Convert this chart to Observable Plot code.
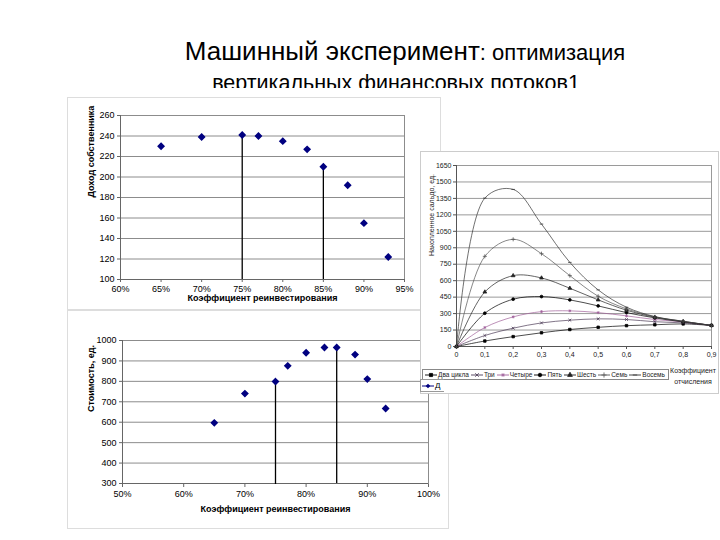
<!DOCTYPE html>
<html>
<head>
<meta charset="utf-8">
<script src="https://cdn.jsdelivr.net/npm/d3@7"></script>
<script src="https://cdn.jsdelivr.net/npm/@observablehq/plot@0.6"></script>
<style>
  html, body { margin: 0; padding: 0; background: #fff; }
  #root { position: relative; width: 720px; height: 540px; overflow: hidden; background: #fff;
          font-family: "Liberation Sans", Arial, sans-serif; }
  .panel { position: absolute; background: #fff; overflow: hidden; }
  .panel > svg { position: absolute; left: 0; top: 0; }
  #legendR { position: absolute; display: flex; align-items: center; gap: 2px; border: 1px solid #888;
             background: #fff; font-size: 6.5px; padding: 0 3px 0 2px; white-space: nowrap; color: #222; box-sizing: border-box; }
  #legendR span.item { display: inline-flex; align-items: center; gap: 1px; }
  #legendR svg { display: block; }
  #xtitleR { position: absolute; font-size: 7px; text-align: center; line-height: 11px; color: #222; }
  #fragL { position: absolute; z-index: 5; background: #fff; border: 1px solid #999; border-right: none;
           font-size: 8px; overflow: hidden; display: flex; align-items: center; gap: 1px; padding-left: 1px; }
  #fragL svg { display: block; }
</style>
</head>
<body>
<div id="root">
  <svg id="title" width="720" height="88" style="position:absolute;left:0;top:0;">
    <text x="405" y="60" text-anchor="middle" font-family="Liberation Sans, Arial, sans-serif" fill="#000">
      <tspan font-size="26">Машинный эксперимент</tspan><tspan font-size="22">: оптимизация</tspan>
    </text>
    <text x="396" y="90" text-anchor="middle" font-family="Liberation Sans, Arial, sans-serif" font-size="21.5" fill="#000">вертикальных финансовых потоков1</text>
  </svg>
  <div id="pTop" class="panel" style="left:67px;top:97px;width:372px;height:211px;border:1px solid #ddd;z-index:1;"></div>
  <div id="pBot" class="panel" style="left:67px;top:310px;width:380px;height:217px;border:1px solid #ddd;z-index:1;"></div>
  <div id="pRight" class="panel" style="left:420px;top:151px;width:297px;height:241px;border:1px solid #ccc;z-index:3;overflow:visible;"></div>
  <div id="fragL" style="left:420px;top:379px;width:22px;height:11px;"></div>
</div>
<script>
// ---------- Data: top-left chart (Доход собственника) ----------
const incomeRate = [0.65, 0.70, 0.75, 0.77, 0.80, 0.83, 0.85, 0.88, 0.90, 0.93];
const incomeValue = [230, 239, 241, 240, 235, 227, 210, 192, 155, 122];
const incomeTicksX = [0.60, 0.65, 0.70, 0.75, 0.80, 0.85, 0.90, 0.95];
const incomeTicksY = [100, 120, 140, 160, 180, 200, 220, 240, 260];
const incomeRuleX = [0.75, 0.85];
const incomeRuleTop = [241, 210];
const incomeRuleBottom = [100, 100];

// ---------- Data: bottom-left chart (Стоимость) ----------
const costRate = [0.65, 0.70, 0.75, 0.77, 0.80, 0.83, 0.85, 0.88, 0.90, 0.93];
const costValue = [597, 740, 799, 876, 940, 966, 966, 931, 811, 667];
const costTicksX = [0.5, 0.6, 0.7, 0.8, 0.9, 1.0];
const costTicksY = [300, 400, 500, 600, 700, 800, 900, 1000];
const costRuleX = [0.75, 0.85];
const costRuleTop = [800, 966];
const costRuleBottom = [295, 300];
const costLegendFragment = "Д";

// ---------- Data: right chart (Накопленное сальдо) ----------
const coef = [0, 0.1, 0.2, 0.3, 0.4, 0.5, 0.6, 0.7, 0.8, 0.9];
const seriesNames = ["Два цикла", "Три", "Четыре", "Пять", "Шесть", "Семь", "Восемь"];
const dvaCikla = [0, 50, 90, 125, 155, 175, 190, 198, 206, 192];
const tri      = [0, 100, 167, 215, 240, 252, 246, 226, 215, 192];
const chetyre  = [0, 173, 270, 318, 325, 309, 279, 246, 224, 192];
const pyat     = [0, 303, 431, 455, 425, 370, 309, 261, 224, 192];
const shest    = [0, 497, 646, 625, 531, 425, 331, 267, 228, 192];
const sem      = [0, 822, 977, 846, 646, 458, 343, 270, 230, 192];
const vosem    = [0, 1353, 1432, 1116, 767, 516, 358, 273, 230, 192];
const rightTicksY = [0, 150, 300, 450, 600, 750, 900, 1050, 1200, 1350, 1500, 1650];
const rightTicksX = [0, 0.1, 0.2, 0.3, 0.4, 0.5, 0.6, 0.7, 0.8, 0.9];

const FONT = "Liberation Sans, Arial, sans-serif";
const pct = d3.format(".0%");

function scatterChart(opts) {
  const pts = opts.rate.map((x, i) => ({x, y: opts.value[i]}));
  const rules = opts.ruleX.map((x, i) => ({x, y1: opts.ruleBottom[i], y2: opts.ruleTop[i]}));
  return Plot.plot({
    width: opts.width, height: opts.height,
    marginLeft: opts.ml, marginRight: opts.mr, marginTop: opts.mt, marginBottom: opts.mb,
    style: {background: "transparent", fontFamily: FONT, fontSize: "9px", color: "#000", overflow: "visible"},
    x: {domain: opts.xDomain},
    y: {domain: opts.yDomain},
    marks: [
      Plot.gridY(opts.ticksY, {stroke: "#8c8c8c", strokeOpacity: 1}),
      Plot.frame({stroke: "#8c8c8c"}),
      Plot.ruleY([opts.yDomain[0]], {stroke: "#666"}),
      Plot.ruleX([opts.xDomain[0]], {stroke: "#666"}),
      Plot.axisX({ticks: opts.ticksX, tickFormat: pct, tickSize: 3, tickPadding: 3, label: null, stroke: "#666", dy: opts.xdy || 0}),
      Plot.axisY({ticks: opts.ticksY, tickFormat: d3.format("d"), tickSize: 3, tickPadding: 3, label: null, stroke: "#666"}),
      Plot.ruleX(rules, {x: "x", y1: "y1", y2: "y2", stroke: "#000", strokeWidth: 1.3}),
      Plot.dot(pts, {x: "x", y: "y", symbol: "diamond2", fill: "#000080", stroke: "#000080", r: 2.6}),
      Plot.text([opts.xLabel], {frameAnchor: "bottom", dy: opts.xLabelDy, fontWeight: "bold", fontSize: 9, fill: "#000"}),
      Plot.text([opts.yLabel], {frameAnchor: "left", dx: opts.yLabelDx, rotate: -90, fontWeight: "bold", fontSize: 9, fill: "#000"})
    ]
  });
}

// top-left: panel at (67,97); plot area x 119..403, y 114..278
document.getElementById("pTop").appendChild(scatterChart({
  rate: incomeRate, value: incomeValue, ruleX: incomeRuleX, ruleTop: incomeRuleTop, ruleBottom: incomeRuleBottom,
  width: 372, height: 211, ml: 52, mr: 372 - 336, mt: 17, mb: 30,
  xDomain: [0.6, 0.95], yDomain: [100, 260], ticksX: incomeTicksX, ticksY: incomeTicksY,
  xLabel: "Коэффициент реинвестирования", xLabelDy: 21, yLabel: "Доход собственника", yLabelDx: -29
}));

// bottom-left: panel at (67,310); plot area x 121..427, y 339..482
document.getElementById("pBot").appendChild(scatterChart({
  rate: costRate, value: costValue, ruleX: costRuleX, ruleTop: costRuleTop, ruleBottom: costRuleBottom,
  width: 380, height: 217, ml: 54, mr: 380 - 360, mt: 29, mb: 45, xdy: 1,
  xDomain: [0.5, 1.0], yDomain: [300, 1000], ticksX: costTicksX, ticksY: costTicksY,
  xLabel: "Коэффициент реинвестирования", xLabelDy: 28, yLabel: "Стоимость, ед.", yLabelDx: -31
}));

// right chart
const seriesValues = [dvaCikla, tri, chetyre, pyat, shest, sem, vosem];
const seriesColors = ["#000000", "#4a3a55", "#a0609a", "#000000", "#222222", "#555555", "#333333"];
const dash = {draw(ctx, size) { const r = Math.sqrt(size) * 0.7; ctx.moveTo(-r, 0); ctx.lineTo(r, 0); }};
const seriesSymbols = ["square", "times", "asterisk", "circle", "triangle", "plus", dash];
const seriesFilled = [true, false, false, true, true, false, false];
const rows = [];
seriesNames.forEach((s, k) => coef.forEach((c, i) => rows.push({series: s, k, x: c, y: seriesValues[k][i]})));
const fmtComma = d => d === 0 ? "0" : d.toFixed(1).replace(".", ",");

const rightMarks = [
  Plot.gridY(rightTicksY, {stroke: "#9a9a9a", strokeOpacity: 1}),
  Plot.frame({stroke: "#9a9a9a"}),
  Plot.ruleY([0], {stroke: "#555"}),
  Plot.ruleX([0], {stroke: "#555"}),
  Plot.axisX({ticks: rightTicksX, tickFormat: fmtComma, tickSize: 3, tickPadding: 3, label: null, stroke: "#555", fontSize: 7}),
  Plot.axisY({ticks: rightTicksY, tickFormat: d3.format("d"), tickSize: 3, tickPadding: 2, label: null, stroke: "#555", fontSize: 7}),
  Plot.line(rows, {x: "x", y: "y", z: "series", curve: "catmull-rom",
    stroke: d => seriesColors[d.k], strokeWidth: 0.7})
];
seriesNames.forEach((s, k) => {
  const pts = rows.filter(d => d.k === k);
  rightMarks.push(Plot.dot(pts, {x: "x", y: "y", symbol: () => seriesSymbols[k], r: 1.4,
    fill: seriesFilled[k] ? seriesColors[k] : "none", stroke: seriesColors[k], strokeWidth: 0.8}));
});
rightMarks.push(Plot.text(["Накопленное сальдо, ед."], {frameAnchor: "left", dx: -25, rotate: -90, fontSize: 7, fill: "#222"}));

const rightSvg = Plot.plot({
  width: 297, height: 241,
  marginLeft: 35, marginRight: 7, marginTop: 13, marginBottom: 47,
  style: {background: "transparent", fontFamily: FONT, fontSize: "7px", color: "#222", overflow: "visible"},
  x: {domain: [0, 0.9]},
  y: {domain: [0, 1650]},
  symbol: {type: "identity"},
  marks: rightMarks
});
const pRight = document.getElementById("pRight");
pRight.appendChild(rightSvg);

// legend for right chart
const legend = document.createElement("div");
legend.id = "legendR";
legend.style.left = "1px"; legend.style.top = "217px"; legend.style.height = "11px";
seriesNames.forEach((s, k) => {
  const item = document.createElement("span");
  item.className = "item";
  const sw = d3.create("svg").attr("width", 12).attr("height", 8);
  sw.append("line").attr("x1", 0).attr("x2", 12).attr("y1", 4).attr("y2", 4).attr("stroke", seriesColors[k]).attr("stroke-width", 0.9);
  const sym = typeof seriesSymbols[k] === "string" ? d3.symbol(
    {square: d3.symbolSquare, times: d3.symbolTimes, asterisk: d3.symbolAsterisk, circle: d3.symbolCircle,
     triangle: d3.symbolTriangle, plus: d3.symbolPlus}[seriesSymbols[k]], 10)() : d3.symbol(seriesSymbols[k], 10)();
  sw.append("path").attr("d", sym).attr("transform", "translate(6,4)")
    .attr("fill", seriesFilled[k] ? seriesColors[k] : "none").attr("stroke", seriesColors[k]).attr("stroke-width", 0.8);
  item.appendChild(sw.node());
  const t = document.createElement("span"); t.textContent = s; item.appendChild(t);
  legend.appendChild(item);
});
pRight.appendChild(legend);

const xt = document.createElement("div");
xt.id = "xtitleR";
xt.style.left = "245px"; xt.style.top = "213px"; xt.style.width = "54px";
xt.innerHTML = "Коэффициент<br>отчисления";
pRight.appendChild(xt);

// fragment of bottom-left chart legend peeking out
const frag = document.getElementById("fragL");
const fs = d3.create("svg").attr("width", 12).attr("height", 8);
fs.append("line").attr("x1", 0).attr("x2", 12).attr("y1", 4).attr("y2", 4).attr("stroke", "#000080");
fs.append("path").attr("d", d3.symbol(d3.symbolDiamond2, 14)()).attr("transform", "translate(6,4)").attr("fill", "#000080");
frag.appendChild(fs.node());
const ft = document.createElement("span"); ft.textContent = costLegendFragment; frag.appendChild(ft);
</script>
</body>
</html>
